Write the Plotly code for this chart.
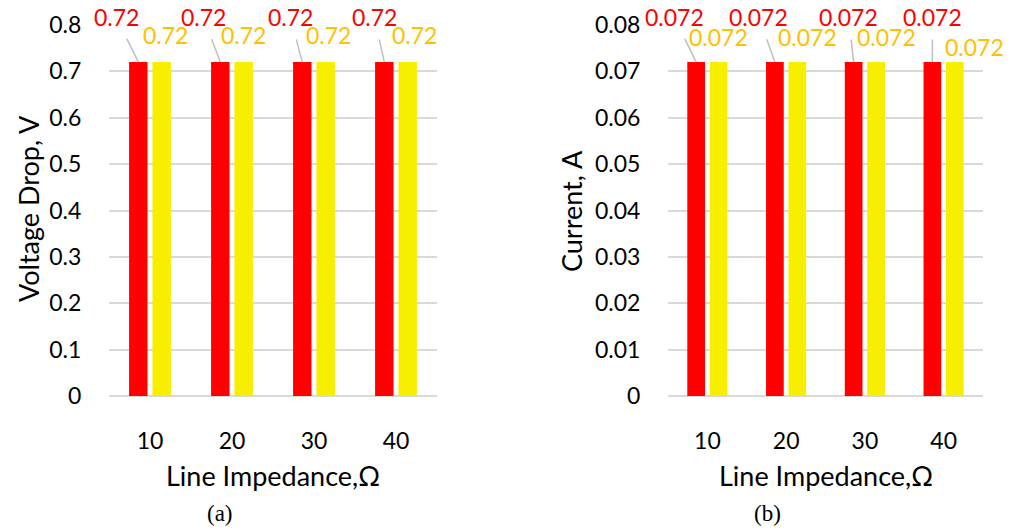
import plotly.graph_objects as go

# ---- data ----
impedance = [10, 20, 30, 40]
tick_labels = ["10", "20", "30", "40"]
voltage_red = [0.72, 0.72, 0.72, 0.72]
voltage_yellow = [0.72, 0.72, 0.72, 0.72]
current_red = [0.072, 0.072, 0.072, 0.072]
current_yellow = [0.072, 0.072, 0.072, 0.072]

RED = "#FF0000"
YELLOW = "#F7EE00"
ORANGE = "#FFC000"
GRID = "#D9D9D9"
FONT = "Lato"

BAR_W = 2.25
RED_OFF = -2.55
YEL_OFF = 0.3

W, H = 1021, 531

fig = go.Figure()

def add_panel(xa, ya, red, yellow):
    fig.add_trace(go.Bar(x=impedance, y=red, width=BAR_W, offset=RED_OFF,
                         marker=dict(color=RED, line=dict(width=0)),
                         xaxis=xa, yaxis=ya, showlegend=False))
    fig.add_trace(go.Bar(x=impedance, y=yellow, width=BAR_W, offset=YEL_OFF,
                         marker=dict(color=YELLOW, line=dict(width=0)),
                         xaxis=xa, yaxis=ya, showlegend=False))

add_panel("x", "y", voltage_red, voltage_yellow)
add_panel("x2", "y2", current_red, current_yellow)

# label offsets (pixels) - styling only
left_red_ax = [-22, -17, -12, -10]
left_yel_dx = [4, 0, 3, 7]
left_yel_dy = [27, 27, 27, 27]
right_red_ax = [-22, -16, -5, 0]
right_yel_dx = [0, 10, 10, 20]
right_yel_dy = [25, 25, 25, 15]

def add_labels(xref, yref, red, yellow, fmt, red_ax, yel_dx, yel_dy):
    for i, c in enumerate(impedance):
        fig.add_annotation(x=c + RED_OFF + BAR_W / 2, y=red[i], xref=xref, yref=yref,
                           text=fmt(red[i]), showarrow=True, arrowhead=0,
                           arrowwidth=1.5, arrowcolor="#BFBFBF",
                           ax=red_ax[i], ay=-45, startstandoff=7,
                           font=dict(family=FONT, size=23, color=RED))
        fig.add_annotation(x=c + YEL_OFF + BAR_W / 2, y=yellow[i], xref=xref, yref=yref,
                           text=fmt(yellow[i]), showarrow=False,
                           xshift=yel_dx[i], yshift=yel_dy[i],
                           font=dict(family=FONT, size=23, color=ORANGE))

add_labels("x", "y", voltage_red, voltage_yellow, lambda v: f"{v:g}",
           left_red_ax, left_yel_dx, left_yel_dy)
add_labels("x2", "y2", current_red, current_yellow, lambda v: f"{v:g}",
           right_red_ax, right_yel_dx, right_yel_dy)

ydom = [1 - 396 / H, 1 - 25 / H]
xdom1 = [109 / W, 437 / W]
xdom2 = [668 / W, 983 / W]

xcommon = dict(range=[5, 45], tickvals=impedance, ticktext=tick_labels,
               showgrid=False, zeroline=False, showline=False, automargin=False,
               ticks="outside", ticklen=24, tickcolor="rgba(0,0,0,0)",
               tickfont=dict(family=FONT, size=23, color="#000"))
ycommon = dict(showgrid=True, gridcolor=GRID, gridwidth=1.5, zeroline=True,
               zerolinecolor=GRID, zerolinewidth=1.5, automargin=False,
               showline=False, ticks="outside", ticklen=22,
               tickcolor="rgba(0,0,0,0)",
               tickfont=dict(family=FONT, size=23, color="#000"))

fig.update_layout(
    width=W, height=H, autosize=False,
    margin=dict(l=0, r=0, t=0, b=0, pad=0),
    paper_bgcolor="white", plot_bgcolor="white",
    barmode="overlay",
    xaxis=dict(domain=xdom1, anchor="y", **xcommon),
    yaxis=dict(domain=ydom, anchor="x", range=[0, 0.8], dtick=0.1, **ycommon),
    xaxis2=dict(domain=xdom2, anchor="y2", **xcommon),
    yaxis2=dict(domain=ydom, anchor="x2", range=[0, 0.08], dtick=0.01, **ycommon),
)

titles = [
    dict(text="Line Impedance,Ω", x=273 / W, y=1 - 475 / H, textangle=0),
    dict(text="Line Impedance,Ω", x=826 / W, y=1 - 475 / H, textangle=0),
    dict(text="Voltage Drop, V", x=28 / W, y=1 - 209 / H, textangle=-90),
    dict(text="Current, A", x=572 / W, y=1 - 211 / H, textangle=-90),
]
for t in titles:
    fig.add_annotation(xref="paper", yref="paper", showarrow=False,
                       xanchor="center", yanchor="middle",
                       font=dict(family=FONT, size=27, color="#000"), **t)

for txt, xc in [("(a)", 220), ("(b)", 767)]:
    fig.add_annotation(xref="paper", yref="paper", x=xc / W, y=1 - 513 / H,
                       text=txt, showarrow=False, xanchor="center", yanchor="middle",
                       font=dict(family="Liberation Serif", size=23, color="#000"))

fig.write_html("out.html")
